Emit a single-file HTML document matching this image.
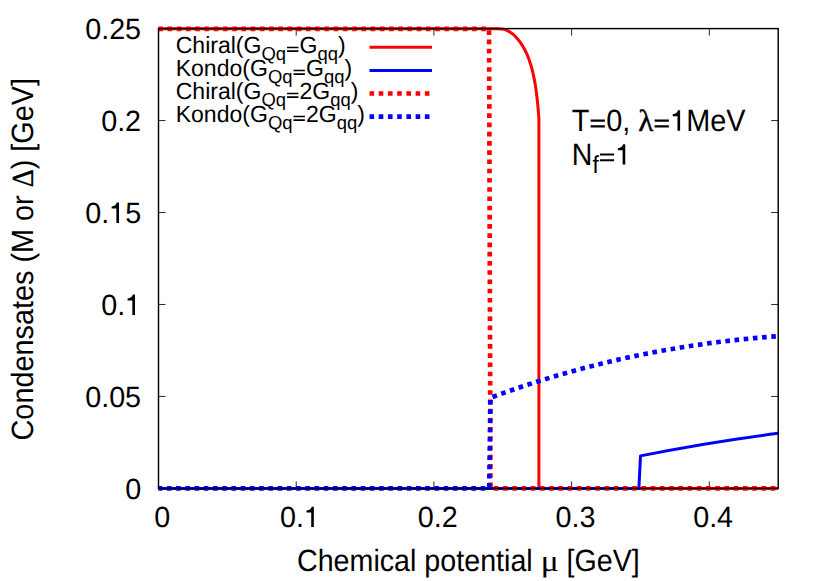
<!DOCTYPE html>
<html>
<head>
<meta charset="utf-8">
<title>Condensates</title>
<style>
html,body{margin:0;padding:0;background:#fff;}
body{width:830px;height:581px;overflow:hidden;position:relative;font-family:"Liberation Sans",sans-serif;}
svg{display:block;position:absolute;left:0;top:0;}
text{font-family:"Liberation Sans",sans-serif;fill:#000;white-space:pre;text-rendering:geometricPrecision;}
text.sy{font-family:"Liberation Serif",serif;stroke:#000;}
</style>
</head>
<body>
<svg width="830" height="581" viewBox="0 0 830 581">
<rect x="0" y="0" width="830" height="581" fill="#fff"/>
<path d="M296.21 488.4 v-7 M296.21 28.6 v7 M433.92 488.4 v-7 M433.92 28.6 v7 M571.63 488.4 v-7 M571.63 28.6 v7 M709.34 488.4 v-7 M709.34 28.6 v7 M158.5 396.44 h7 M778.2 396.44 h-7 M158.5 304.48 h7 M778.2 304.48 h-7 M158.5 212.52 h7 M778.2 212.52 h-7 M158.5 120.56 h7 M778.2 120.56 h-7" stroke="#2a2a2a" stroke-width="1" fill="none"/>
<g fill="none" stroke-linejoin="round">
<path d="M158.5 28.8 L497.00 28.80 L502.24 29.01 L504.91 29.65 L507.43 30.63 L509.79 31.91 L512.00 33.45 L514.08 35.21 L516.02 37.14 L517.84 39.20 L519.53 41.37 L521.11 43.59 L522.57 45.86 L523.93 48.19 L525.19 50.56 L526.36 52.97 L527.44 55.43 L528.44 57.92 L529.37 60.45 L530.22 63.01 L531.02 65.60 L531.76 68.21 L532.44 70.85 L533.08 73.52 L533.67 76.20 L534.22 78.89 L534.73 81.60 L535.20 84.32 L535.63 87.05 L536.03 89.78 L536.40 92.52 L536.74 95.25 L537.05 97.98 L537.35 100.71 L537.62 103.42 L537.88 106.13 L538.12 108.82 L538.34 111.49 L538.56 114.14 L538.77 116.77 L538.90 119.37 L538.9 488.4 L778.2 488.4" stroke="#ff0000" stroke-width="3.0"/>
<path d="M158.5 488.4 L638.9 488.4 L640.5 455.9 Q709 442 778.2 433.3" stroke="#0000ff" stroke-width="3.0"/>
<path d="M158.5 28.8 L489.05 28.8 L490.5 488.4 L778.2 488.4" stroke="#ff0000" stroke-width="4.65" stroke-dasharray="4.614 4.614" stroke-dashoffset="0.15"/>
<path d="M158.5 488.4 L489.2 488.4 L490.45 397.73 L502.44 393.36 L514.43 389.15 L526.42 385.12 L538.41 381.26 L550.40 377.56 L562.39 374.02 L574.38 370.65 L586.37 367.43 L598.36 364.38 L610.35 361.47 L622.34 358.73 L634.33 356.13 L646.31 353.68 L658.30 351.39 L670.29 349.24 L682.28 347.23 L694.27 345.36 L706.26 343.64 L718.25 342.05 L730.24 340.60 L742.23 339.29 L754.22 338.11 L766.21 337.06 L778.20 336.14" stroke="#0000ff" stroke-width="4.65" stroke-dasharray="4.614 4.614" stroke-dashoffset="0.85"/>
</g>
<g fill="none">
<path d="M369.5 47.30 H432" stroke="#ff0000" stroke-width="3.0"/>
<path d="M369.5 70.40 H432" stroke="#0000ff" stroke-width="3.0"/>
<path d="M369.5 93.50 H432" stroke="#ff0000" stroke-width="4.65" stroke-dasharray="4.614 4.614"/>
<path d="M369.5 116.60 H432" stroke="#0000ff" stroke-width="4.65" stroke-dasharray="4.614 4.614"/>
</g>
<rect x="158.5" y="28.6" width="619.70" height="459.80" stroke="#000" stroke-width="1.45" fill="none"/>
<g transform="translate(141.10,39.00)"><text transform="translate(-55.89,0.00) scale(0.98,1.0)" font-size="29.30">0.25</text></g>
<g transform="translate(141.10,130.96)"><text transform="translate(-39.92,0.00) scale(0.98,1.0)" font-size="29.30">0.2</text></g>
<g transform="translate(141.10,222.92)"><text transform="translate(-55.88,0.00) scale(0.98,1.0)" font-size="29.30">0.</text><path transform="translate(-31.93,0.00) scale(0.02871,-0.02871)" d="M343 0 L251 0 L251 505 L85 505 L85 572 C189 578 246 628 268 709 L343 709 Z"/><text transform="translate(-15.97,0.00) scale(0.98,1.0)" font-size="29.30">5</text></g>
<g transform="translate(141.10,314.88)"><text transform="translate(-39.91,0.00) scale(0.98,1.0)" font-size="29.30">0.</text><path transform="translate(-15.96,0.00) scale(0.02871,-0.02871)" d="M343 0 L251 0 L251 505 L85 505 L85 572 C189 578 246 628 268 709 L343 709 Z"/></g>
<g transform="translate(141.10,406.84)"><text transform="translate(-55.89,0.00) scale(0.98,1.0)" font-size="29.30">0.05</text></g>
<g transform="translate(141.10,498.80)"><text transform="translate(-15.97,0.00) scale(0.98,1.0)" font-size="29.30">0</text></g>
<g transform="translate(162.30,527.00)"><text transform="translate(-7.98,0.00) scale(0.98,1.0)" font-size="29.30">0</text></g>
<g transform="translate(300.01,527.00)"><text transform="translate(-19.96,0.00) scale(0.98,1.0)" font-size="29.30">0.</text><path transform="translate(3.99,0.00) scale(0.02871,-0.02871)" d="M343 0 L251 0 L251 505 L85 505 L85 572 C189 578 246 628 268 709 L343 709 Z"/></g>
<g transform="translate(437.72,527.00)"><text transform="translate(-19.96,0.00) scale(0.98,1.0)" font-size="29.30">0.2</text></g>
<g transform="translate(575.43,527.00)"><text transform="translate(-19.96,0.00) scale(0.98,1.0)" font-size="29.30">0.3</text></g>
<g transform="translate(713.14,527.00)"><text transform="translate(-19.96,0.00) scale(0.98,1.0)" font-size="29.30">0.4</text></g>
<g transform="translate(468.40,570.60)"><text transform="translate(-171.42,0.00) scale(0.978,1.05)" font-size="29.30">Chemical potential </text><text class="sy" stroke-width="0.1" transform="translate(72.28,0.00) scale(1.0562,0.9660)" font-size="31.64">μ</text><text transform="translate(90.20,0.00) scale(0.978,1.05)" font-size="29.30"> [GeV]</text></g>
<g transform="translate(32.60,259.20) rotate(-90)"><text transform="translate(-181.27,0.00) scale(0.984,1.05)" font-size="29.30">Condensates (M or </text><text class="sy" stroke-width="0.3" transform="translate(71.92,0.00) scale(0.8856,0.9660)" font-size="31.64">Δ</text><text transform="translate(89.94,0.00) scale(0.984,1.05)" font-size="29.30">) [GeV]</text></g>
<g transform="translate(175.70,52.80)"><text transform="translate(0.00,0.00) scale(1.015,1.03)" font-size="22.70">Chiral(G</text><text transform="translate(85.77,7.00) scale(1.015,1.03)" font-size="18.16">Qq</text><path transform="translate(110.36,1.10) scale(0.02304,-0.01816)" d="M42 305 H536 V400 H42 Z M42 105 H536 V200 H42 Z"/><text transform="translate(123.82,0.00) scale(1.015,1.03)" font-size="22.70">G</text><text transform="translate(141.74,7.00) scale(1.015,1.03)" font-size="18.16">qq</text><text transform="translate(162.24,0.00) scale(1.015,1.03)" font-size="22.70">)</text></g>
<g transform="translate(175.70,75.80)"><text transform="translate(0.00,0.00) scale(1.015,1.03)" font-size="22.70">Kondo(G</text><text transform="translate(92.22,7.00) scale(1.015,1.03)" font-size="18.16">Qq</text><path transform="translate(116.81,1.10) scale(0.02304,-0.01816)" d="M42 305 H536 V400 H42 Z M42 105 H536 V200 H42 Z"/><text transform="translate(130.26,0.00) scale(1.015,1.03)" font-size="22.70">G</text><text transform="translate(148.18,7.00) scale(1.015,1.03)" font-size="18.16">qq</text><text transform="translate(168.69,0.00) scale(1.015,1.03)" font-size="22.70">)</text></g>
<g transform="translate(175.70,98.80)"><text transform="translate(0.00,0.00) scale(1.015,1.03)" font-size="22.70">Chiral(G</text><text transform="translate(85.77,7.00) scale(1.015,1.03)" font-size="18.16">Qq</text><path transform="translate(110.36,1.10) scale(0.02304,-0.01816)" d="M42 305 H536 V400 H42 Z M42 105 H536 V200 H42 Z"/><text transform="translate(123.82,0.00) scale(1.015,1.03)" font-size="22.70">2G</text><text transform="translate(154.55,7.00) scale(1.015,1.03)" font-size="18.16">qq</text><text transform="translate(175.06,0.00) scale(1.015,1.03)" font-size="22.70">)</text></g>
<g transform="translate(175.70,121.80)"><text transform="translate(0.00,0.00) scale(1.015,1.03)" font-size="22.70">Kondo(G</text><text transform="translate(92.22,7.00) scale(1.015,1.03)" font-size="18.16">Qq</text><path transform="translate(116.81,1.10) scale(0.02304,-0.01816)" d="M42 305 H536 V400 H42 Z M42 105 H536 V200 H42 Z"/><text transform="translate(130.26,0.00) scale(1.015,1.03)" font-size="22.70">2G</text><text transform="translate(161.00,7.00) scale(1.015,1.03)" font-size="18.16">qq</text><text transform="translate(181.50,0.00) scale(1.015,1.03)" font-size="22.70">)</text></g>
<g transform="translate(571.80,130.80)"><text transform="translate(0.00,0.00) scale(0.984,1.05)" font-size="29.30">T</text><path transform="translate(17.61,0.00) scale(0.02883,-0.02883)" d="M42 315 H536 V390 H42 Z M42 115 H536 V190 H42 Z"/><text transform="translate(34.45,0.00) scale(0.984,1.05)" font-size="29.30">0, </text><text class="sy" stroke-width="0.45" transform="translate(66.50,0.00) scale(0.9840,0.9660)" font-size="31.64">λ</text><path transform="translate(81.60,0.00) scale(0.02883,-0.02883)" d="M42 315 H536 V390 H42 Z M42 115 H536 V190 H42 Z"/><path transform="translate(98.44,0.00) scale(0.02883,-0.02883)" d="M343 0 L251 0 L251 505 L85 505 L85 572 C189 578 246 628 268 709 L343 709 Z"/><text transform="translate(114.47,0.00) scale(0.984,1.05)" font-size="29.30">MeV</text></g>
<g transform="translate(571.80,164.60)"><text transform="translate(0.00,0.00) scale(0.975,1.05)" font-size="29.30">N</text><text transform="translate(20.63,8.30) scale(0.975,1.05)" font-size="23.44">f</text><path transform="translate(26.98,0.00) scale(0.02857,-0.02857)" d="M42 315 H536 V390 H42 Z M42 115 H536 V190 H42 Z"/><path transform="translate(43.66,0.00) scale(0.02857,-0.02857)" d="M343 0 L251 0 L251 505 L85 505 L85 572 C189 578 246 628 268 709 L343 709 Z"/></g>
</svg>
</body>
</html>
